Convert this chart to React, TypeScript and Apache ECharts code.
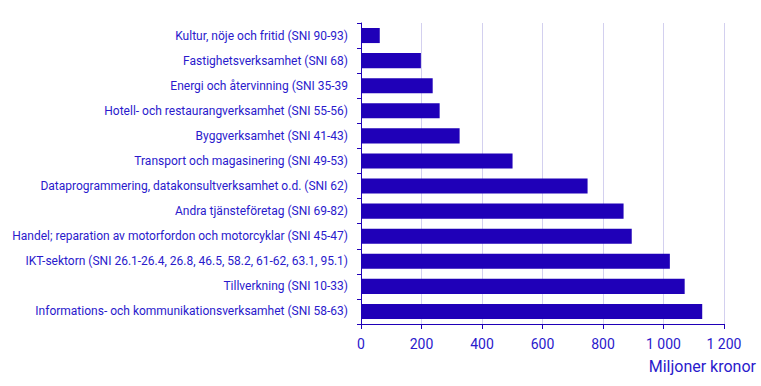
import React, { useEffect, useRef } from "react";
import * as echarts from "echarts";

const categories = [
  "Kultur, nöje och fritid (SNI 90-93)",
  "Fastighetsverksamhet (SNI 68)",
  "Energi och återvinning (SNI 35-39",
  "Hotell- och restaurangverksamhet (SNI 55-56)",
  "Byggverksamhet (SNI 41-43)",
  "Transport och magasinering (SNI 49-53)",
  "Dataprogrammering, datakonsultverksamhet o.d. (SNI 62)",
  "Andra tjänsteföretag (SNI 69-82)",
  "Handel; reparation av motorfordon och motorcyklar (SNI 45-47)",
  "IKT-sektorn (SNI 26.1-26.4, 26.8, 46.5, 58.2, 61-62, 63.1, 95.1)",
  "Tillverkning (SNI 10-33)",
  "Informations- och kommunikationsverksamhet (SNI 58-63)",
];
const values = [62, 198, 237, 260, 326, 501, 749, 868, 895, 1021, 1070, 1128];
const axisName = "Miljoner kronor";

const BLUE = "#1f00b8";
const TEXT = "#2a1acc";

export default function App() {
  const ref = useRef<HTMLDivElement>(null);
  useEffect(() => {
    document.body.style.margin = "0";
    document.body.style.overflow = "hidden";
    const chart = echarts.init(ref.current!, undefined, { renderer: "svg" });
    chart.setOption({
      animation: false,
      textStyle: { fontFamily: "Roboto" },
      grid: { left: 361, right: 37, top: 23, bottom: 62 },
      xAxis: {
        type: "value",
        min: 0,
        max: 1200,
        interval: 200,
        axisLine: { show: true, lineStyle: { color: BLUE, width: 1 } },
        axisTick: { show: true, length: 5, lineStyle: { color: BLUE } },
        splitLine: { show: true, lineStyle: { color: "#d3d0ef", width: 1 } },
        axisLabel: {
          color: TEXT,
          fontSize: 14,
          margin: 13,
          formatter: (v: number) =>
            v >= 1000 ? `${Math.floor(v / 1000)} ${String(v % 1000).padStart(3, "0")}` : String(v),
        },
      },
      yAxis: {
        type: "category",
        inverse: true,
        data: categories,
        axisLine: { show: true, lineStyle: { color: BLUE, width: 1 } },
        axisTick: { show: true, length: 4, lineStyle: { color: BLUE } },
        axisLabel: { color: TEXT, fontSize: 12, margin: 13 },
      },
      graphic: [
        {
          type: "text",
          x: 756,
          y: 366,
          style: {
            text: axisName,
            fill: TEXT,
            font: "16px Roboto",
            align: "right",
            verticalAlign: "middle",
          },
        },
      ],
      series: [
        {
          type: "bar",
          data: values,
          barWidth: "60%",
          itemStyle: { color: BLUE },
        },
      ],
    });
    return () => chart.dispose();
  }, []);
  return (
    <div
      ref={ref}
      style={{ position: "absolute", left: 0, top: 0, width: 761, height: 386 }}
    />
  );
}
